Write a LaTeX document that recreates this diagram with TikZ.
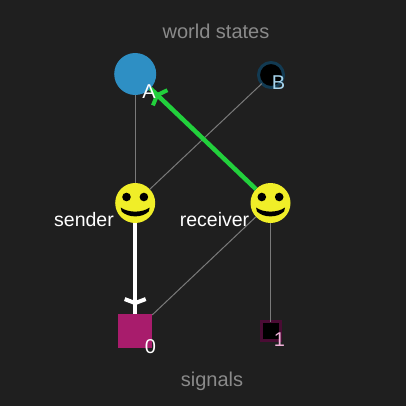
\documentclass[tikz,border=0pt]{standalone}
\usepackage{fontspec}
\setmainfont{Liberation Sans}
\usetikzlibrary{decorations.markings,calc}
\definecolor{bg}{HTML}{1F1F1F}
\definecolor{stateA}{HTML}{2E8FC4}
\definecolor{stateB}{HTML}{123A52}
\definecolor{sigzero}{HTML}{A81C6C}
\definecolor{sigone}{HTML}{4A0C34}
\definecolor{labB}{HTML}{A6D4EC}
\definecolor{labone}{HTML}{F0B0D8}
\definecolor{smile}{HTML}{F0EE28}
\definecolor{arrowgreen}{HTML}{22D03C}
\definecolor{headline}{HTML}{8A8A8A}
\definecolor{thin}{HTML}{7A7A7A}
\tikzset{
  smiley/.style={circle,inner sep=0pt,outer sep=0pt,minimum size=40pt,fill=smile,
    path picture={
      \coordinate (c) at (path picture bounding box.center);
      \fill[black] ($(c)+(-8.7,-6)$) circle (4.3);
      \fill[black] ($(c)+(8.7,-6)$) circle (4.3);
      \fill[black] ($(c)+(-14.5,4.5)$) .. controls ($(c)+(-7,10)$) and ($(c)+(7,10)$) .. ($(c)+(14.5,4.5)$)
         -- ($(c)+(13.5,8.5)$) .. controls ($(c)+(7,15)$) and ($(c)+(-7,15)$) .. ($(c)+(-13.5,8.5)$) -- cycle;
    }},
  thinedge/.style={draw=thin,line width=1pt},
  headlabel/.style={text=headline,font=\fontsize{20}{20}\selectfont},
  rolelabel/.style={text=white,font=\fontsize{19.5}{20}\selectfont},
  tag/.style={font=\fontsize{20}{20}\selectfont,inner sep=0pt},
  barb at/.style 2 args={postaction={decorate,decoration={markings,
      mark=at position #1 with {\draw[#2,line width=4pt] (-4,10.5) -- (0,0) -- (-4,-10.5);}}}}
}
\begin{document}
\begin{tikzpicture}[x=1pt,y=-1pt]
\useasboundingbox[fill=bg] (0,0) rectangle (406,406);
\node[circle,inner sep=0pt,outer sep=0pt,minimum size=42pt,fill=stateA] (A) at (135.2,74) {};
\node[circle,inner sep=0pt,outer sep=0pt,minimum size=25pt,fill=black,draw=stateB,line width=3pt] (B) at (271,75) {};
\node[smiley] (sender) at (135.2,203) {};
\node[smiley] (receiver) at (270.5,203) {};
\node[rectangle,inner sep=0pt,outer sep=0pt,minimum size=34pt,fill=sigzero] (s0) at (135.2,331) {};
\node[rectangle,inner sep=0pt,outer sep=0pt,minimum size=19pt,fill=black,draw=sigone,line width=3pt] (s1) at (270.5,331) {};
\draw[thinedge] (A) -- (sender);
\draw[thinedge] (B) -- (sender);
\draw[thinedge] (receiver) -- (s0);
\draw[thinedge] (receiver) -- (s1);
\draw[white,line width=4.5pt,barb at={0.88}{white}] (sender) -- (s0);
\draw[arrowgreen,line width=4.5pt,barb at={0.935}{arrowgreen}] (receiver) -- (A);
\node[headlabel] (world) at (216,31) {world states};
\node[headlabel] (sig) at (212,381) {signals};
\node[rolelabel] (lsender) at (84,220) {sender};
\node[rolelabel] (lreceiver) at (214.5,220) {receiver};
\node[tag,text=white] (la) at (149,92) {A};
\node[tag,text=labB] (lb) at (278.5,83) {B};
\node[tag,text=white] (l0) at (150.5,347) {0};
\node[tag,text=labone] (l1) at (279.5,340) {1};
\end{tikzpicture}
\end{document}
